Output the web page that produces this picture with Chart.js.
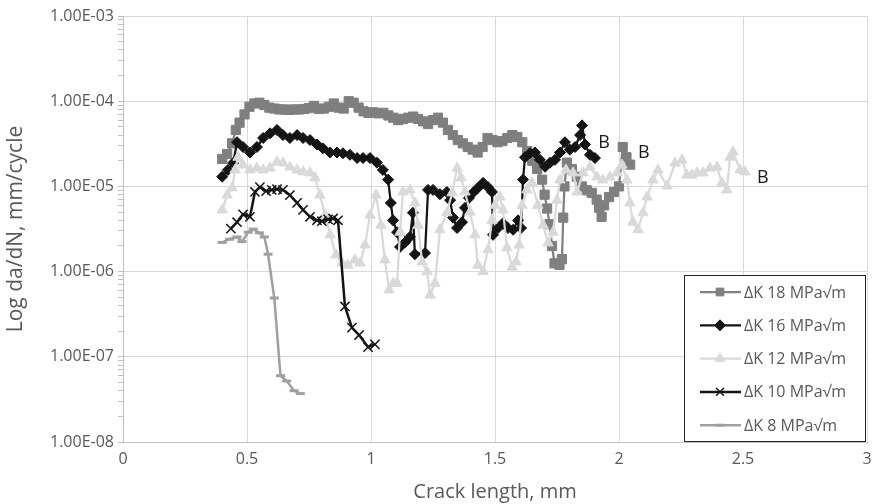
<!DOCTYPE html>
<html>
<head>
<meta charset="utf-8">
<title>Crack growth rate</title>
<script src="https://cdn.jsdelivr.net/npm/chart.js"></script>
<style>
  body{margin:0;background:#fff;}
  #wrap{width:878px;height:504px;}
</style>
</head>
<body>
<div id="wrap"><canvas id="myChart" width="878" height="504"></canvas></div>
<script>
'use strict';

var seriesNames=['ΔK 18 MPa√m','ΔK 16 MPa√m','ΔK 12 MPa√m','ΔK 10 MPa√m','ΔK 8 MPa√m'];
var yTickLabels=['1.00E-08','1.00E-07','1.00E-06','1.00E-05','1.00E-04','1.00E-03'];
var xTickLabels=['0','0.5','1','1.5','2','2.5','3'];
var xMin=0, xMax=3, xStep=0.5;

//------- crack length (mm) / da/dN (mm/cycle)
var crack18=[0.40,0.42,0.44,0.455,0.47,0.49,0.51,0.53,0.55,0.57,0.59,0.61,0.63,0.65,0.67,0.69,0.71,0.73,0.75,0.77,
  0.79,0.81,0.83,0.85,0.87,0.89,0.91,0.93,0.95,0.97,0.99,1.01,1.03,1.05,1.07,1.09,1.11,1.13,1.15,1.17,
  1.19,1.21,1.23,1.25,1.27,1.29,1.31,1.33,1.35,1.37,1.39,1.41,1.43,1.45,1.47,1.49,1.51,1.53,1.55,1.57,
  1.59,1.61,1.63,1.65,1.67,1.69,1.70,1.71,1.72,1.73,1.74,1.76,1.77,1.775,1.78,1.79,1.81,1.83,1.85,1.87,
  1.89,1.91,1.92,1.93,1.94,1.96,1.98,2.00,2.015,2.03,2.045];
var rate18=[2.1e-5,2.4e-5,3.2e-5,4.6e-5,5.6e-5,7.0e-5,8.6e-5,9.4e-5,9.6e-5,9.0e-5,8.4e-5,8.2e-5,8.0e-5,8.0e-5,7.9e-5,8.0e-5,8.0e-5,8.1e-5,8.3e-5,8.8e-5,
  8.1e-5,8.2e-5,8.6e-5,9.4e-5,8.4e-5,8.2e-5,1.0e-4,9.6e-5,8.4e-5,7.6e-5,7.3e-5,7.4e-5,7.2e-5,7.3e-5,6.8e-5,6.4e-5,6.0e-5,6.2e-5,6.4e-5,6.6e-5,
  6.2e-5,5.8e-5,5.4e-5,6.0e-5,6.4e-5,5.6e-5,4.6e-5,4.0e-5,3.5e-5,3.2e-5,2.9e-5,2.7e-5,2.5e-5,2.9e-5,3.7e-5,3.5e-5,3.3e-5,3.4e-5,3.7e-5,4.0e-5,
  3.8e-5,3.3e-5,2.6e-5,2.0e-5,1.6e-5,1.2e-5,8.0e-6,5.5e-6,3.6e-6,2.0e-6,1.25e-6,1.2e-6,1.4e-6,4.3e-6,1.0e-5,1.9e-5,1.6e-5,1.3e-5,1.0e-5,9.0e-6,
  8.4e-6,7.0e-6,5.6e-6,4.4e-6,6.0e-6,7.5e-6,8.6e-6,1.0e-5,2.9e-5,2.2e-5,1.8e-5];

var crack16=[0.40,0.423,0.444,0.46,0.484,0.512,0.54,0.565,0.593,0.621,0.645,0.673,0.702,0.726,0.754,0.782,0.806,0.835,0.863,0.887,
  0.915,0.944,0.968,0.996,1.024,1.048,1.069,1.08,1.089,1.105,1.117,1.137,1.157,1.169,1.177,1.218,1.23,1.25,1.278,1.306,
  1.319,1.331,1.347,1.367,1.379,1.395,1.411,1.431,1.452,1.472,1.488,1.492,1.512,1.532,1.552,1.573,1.593,1.605,1.613,1.621,
  1.641,1.661,1.681,1.702,1.722,1.742,1.762,1.782,1.802,1.823,1.843,1.851,1.863,1.883,1.903];
var rate16=[1.3e-5,1.56e-5,1.88e-5,3.3e-5,2.9e-5,2.5e-5,2.9e-5,3.7e-5,4.2e-5,4.6e-5,4.0e-5,3.7e-5,4.0e-5,3.7e-5,3.5e-5,3.1e-5,2.8e-5,2.5e-5,2.5e-5,2.45e-5,
  2.35e-5,2.15e-5,2.15e-5,2.15e-5,1.9e-5,1.56e-5,1.2e-5,6.4e-6,4.0e-6,2.9e-6,1.95e-6,2.2e-6,2.55e-6,4.9e-6,1.6e-6,1.65e-6,9.1e-6,9.1e-6,8.1e-6,8.6e-6,
  6.9e-6,4.3e-6,3.25e-6,3.8e-6,5.6e-6,7.3e-6,8.4e-6,9.6e-6,1.1e-5,9.8e-6,8.6e-6,2.7e-6,3.25e-6,3.7e-6,3.25e-6,3.1e-6,4.0e-6,3.25e-6,1.2e-5,2.2e-5,
  2.45e-5,2.5e-5,2.05e-5,1.7e-5,1.9e-5,2.05e-5,2.5e-5,3.3e-5,2.7e-5,2.9e-5,4.0e-5,5.2e-5,3.1e-5,2.35e-5,2.15e-5];

var crack12=[0.40,0.42,0.44,0.452,0.464,0.484,0.512,0.54,0.565,0.593,0.621,0.645,0.673,0.702,0.726,0.754,0.774,0.794,0.815,0.835,
  0.859,0.883,0.907,0.935,0.956,0.976,0.996,1.02,1.04,1.056,1.073,1.089,1.105,1.117,1.129,1.157,1.177,1.19,1.206,1.226,
  1.238,1.258,1.278,1.306,1.327,1.347,1.363,1.379,1.399,1.419,1.431,1.452,1.472,1.488,1.50,1.52,1.532,1.548,1.569,1.585,
  1.597,1.609,1.629,1.649,1.673,1.694,1.714,1.734,1.75,1.762,1.786,1.815,1.831,1.855,1.883,1.911,1.935,1.964,1.992,2.012,
  2.032,2.044,2.056,2.077,2.097,2.113,2.137,2.157,2.194,2.226,2.254,2.274,2.294,2.315,2.339,2.367,2.395,2.415,2.435,2.448,
  2.46,2.488,2.508];
var rate12=[5.3e-6,7.9e-6,9.6e-6,1.56e-5,2.2e-5,1.78e-5,1.56e-5,1.64e-5,1.56e-5,1.64e-5,1.93e-5,1.88e-5,1.69e-5,1.56e-5,1.48e-5,1.44e-5,1.26e-5,7.9e-6,4.6e-6,2.7e-6,
  1.57e-6,1.26e-6,1.19e-6,1.37e-6,1.26e-6,2.05e-6,4.6e-6,7.9e-6,3.5e-6,1.37e-6,6.1e-7,7.3e-7,7.3e-7,2.9e-6,8.6e-6,9.1e-6,6.4e-6,3.5e-6,1.3e-6,1.0e-6,
  5.3e-7,7.3e-7,3.1e-6,4.9e-6,8.4e-6,1.64e-5,1.26e-5,8.6e-6,5.0e-6,2.7e-6,1.19e-6,1.0e-6,1.8e-6,4.0e-6,6.0e-6,7.5e-6,5.3e-6,1.9e-6,1.13e-6,1.3e-6,
  2.05e-6,6.0e-6,9.1e-6,1.1e-5,6.0e-6,3.5e-6,2.17e-6,2.9e-6,6.9e-6,1.19e-5,1.56e-5,1.44e-5,8.6e-6,1.44e-5,1.69e-5,1.29e-5,1.19e-5,1.29e-5,1.44e-5,1.78e-5,
  1.19e-5,6.4e-6,3.8e-6,3.1e-6,4.9e-6,7.5e-6,1.19e-5,1.56e-5,1.01e-5,1.88e-5,2.04e-5,1.36e-5,1.36e-5,1.44e-5,1.44e-5,1.64e-5,1.69e-5,1.1e-5,9.1e-6,2.2e-5,
  2.53e-5,1.56e-5,1.48e-5];

var crack10=[0.435,0.46,0.484,0.512,0.532,0.552,0.577,0.60,0.621,0.645,0.673,0.702,0.726,0.754,0.782,0.802,0.827,0.847,0.867,0.895,
  0.923,0.952,0.988,1.016];
var rate10=[3.2e-6,3.8e-6,4.7e-6,4.4e-6,8.6e-6,9.8e-6,8.8e-6,9.1e-6,9.3e-6,9.1e-6,7.9e-6,6.4e-6,5.3e-6,4.4e-6,4.0e-6,3.9e-6,4.1e-6,4.2e-6,4.0e-6,3.9e-7,
  2.2e-7,1.8e-7,1.3e-7,1.4e-7];

var crack8=[0.40,0.43,0.46,0.48,0.505,0.525,0.55,0.57,0.585,0.61,0.635,0.66,0.69,0.715];
var rate8=[2.2e-6,2.4e-6,2.55e-6,2.25e-6,2.9e-6,3.15e-6,2.85e-6,2.55e-6,1.6e-6,4.9e-7,6.0e-8,5.2e-8,4.0e-8,3.7e-8];

// "B" marks next to the last points
var markText='B';
var markX=[1.94,2.10,2.58];
var markY=[3.2e-5,2.5e-5,1.26e-5];

//-------
var looks=[
  {color:'#7f7f7f', point:'rect', radius:6.5, width:2.25, border:1},
  {color:'#141414', point:'rectRot', radius:5.5, width:2.25, border:1},
  {color:'#d9d9d9', point:'triangle', radius:6, width:2.25, border:1},
  {color:'#141414', point:'crossRot', radius:6.5, width:2.5, border:1.5},
  {color:'#a0a0a0', point:'line', radius:4.5, width:2.5, border:3}
];
var cracks=[crack18,crack16,crack12,crack10,crack8];
var rates=[rate18,rate16,rate12,rate10,rate8];

function toPoints(xs,ys){
    var pts=[];
    for(var i=0;i<xs.length;i++){
        pts.push({x:xs[i],y:ys[i]});
    }
    return pts;
}

var datasets=[];
for(var i=0;i<seriesNames.length;i++){
    datasets.push({
        label:seriesNames[i],
        data:toPoints(cracks[i],rates[i]),
        showLine:true,
        tension:0,
        borderColor:looks[i].color,
        backgroundColor:looks[i].color,
        borderWidth:looks[i].width,
        pointStyle:looks[i].point,
        pointRadius:looks[i].radius,
        pointHoverRadius:looks[i].radius,
        pointBorderWidth:looks[i].border,
        pointBackgroundColor:looks[i].color,
        pointBorderColor:looks[i].color,
        order:seriesNames.length-1-i
    });
}

//------- legend box in the lower right corner of the plot
var boxLegend={
    id:'boxLegend',
    afterDraw:function(chart){
        var ctx=chart.ctx, area=chart.chartArea;
        var w=181, h=167;
        var left=area.right-w-2, top=area.bottom-h;
        ctx.save();
        ctx.fillStyle='#ffffff';
        ctx.fillRect(left,top,w,h);
        ctx.strokeStyle='#262626';
        ctx.lineWidth=1;
        ctx.strokeRect(Math.round(left)+0.5,Math.round(top)+0.5,w,h-1);
        ctx.font='16px "Open Sans"';
        ctx.textBaseline='middle';
        chart.data.datasets.forEach(function(ds,k){
            var y=top+17+k*33.3;
            ctx.strokeStyle=ds.borderColor;
            ctx.lineWidth=ds.borderWidth;
            ctx.beginPath();
            ctx.moveTo(left+16,y);
            ctx.lineTo(left+57,y);
            ctx.stroke();
            ctx.fillStyle=ds.pointBackgroundColor;
            ctx.strokeStyle=ds.pointBorderColor;
            ctx.lineWidth=ds.pointBorderWidth;
            Chart.helpers.drawPoint(ctx,{pointStyle:ds.pointStyle,radius:Math.min(ds.pointRadius,5.5),borderWidth:ds.pointBorderWidth,rotation:0},left+36,y);
            ctx.fillStyle='#595959';
            ctx.fillText(ds.label,left+60,y+1);
        });
        ctx.restore();
    }
};

var endMarks={
    id:'endMarks',
    afterDatasetsDraw:function(chart){
        var ctx=chart.ctx;
        ctx.save();
        ctx.font='18px "Open Sans"';
        ctx.fillStyle='#1a1a1a';
        ctx.textAlign='center';
        ctx.textBaseline='middle';
        for(var k=0;k<markX.length;k++){
            ctx.fillText(markText,chart.scales.x.getPixelForValue(markX[k]),chart.scales.y.getPixelForValue(markY[k]));
        }
        ctx.restore();
    }
};

//-------
Chart.defaults.font.family='"Open Sans", sans-serif';
Chart.defaults.color='#595959';

var ctx=document.getElementById('myChart').getContext('2d');
var chart=new Chart(ctx,{
    type:'scatter',
    data:{datasets:datasets},
    options:{
        responsive:false,
        animation:false,
        devicePixelRatio:1,
        layout:{padding:{top:16,right:0,left:0,bottom:0}},
        plugins:{legend:{display:false},tooltip:{enabled:false}},
        scales:{
            x:{
                type:'linear',
                min:xMin,
                max:xMax,
                afterFit:function(s){ s.height=62; s.paddingRight=11; },
                ticks:{
                    stepSize:xStep,
                    font:{size:16},
                    padding:8,
                    color:'#595959',
                    callback:function(value){ return xTickLabels[Math.round(value/xStep)]; }
                },
                grid:{color:'#d9d9d9',drawTicks:false},
                border:{color:'#bfbfbf'},
                title:{display:true,text:'Crack length, mm',font:{size:20},color:'#595959',padding:{top:0,bottom:0}}
            },
            y:{
                type:'logarithmic',
                min:1e-8,
                max:1e-3,
                afterFit:function(s){ s.width=123; },
                afterBuildTicks:function(axis){
                    var ticks=[];
                    for(var e=-8;e<=-3;e++){
                        for(var k=1;k<10;k++){
                            if(e===-3 && k>1) break;
                            ticks.push({value:k*Math.pow(10,e),major:k===1});
                        }
                    }
                    axis.ticks=ticks;
                },
                ticks:{
                    autoSkip:false,
                    font:{size:16},
                    padding:4,
                    color:'#595959',
                    callback:function(value,index,ticks){
                        if(!ticks[index].major) return '';
                        return yTickLabels[Math.round(Math.log10(value))+8];
                    }
                },
                grid:{
                    color:function(c){ return c.tick && c.tick.major ? '#d9d9d9' : 'rgba(0,0,0,0)'; },
                    tickColor:'#bfbfbf',
                    tickLength:5
                },
                border:{color:'#bfbfbf'},
                title:{display:true,text:'Log da/dN, mm/cycle',font:{size:21},color:'#595959',padding:{top:3,bottom:0}}
            }
        }
    },
    plugins:[endMarks,boxLegend]
});
</script>
</body>
</html>
